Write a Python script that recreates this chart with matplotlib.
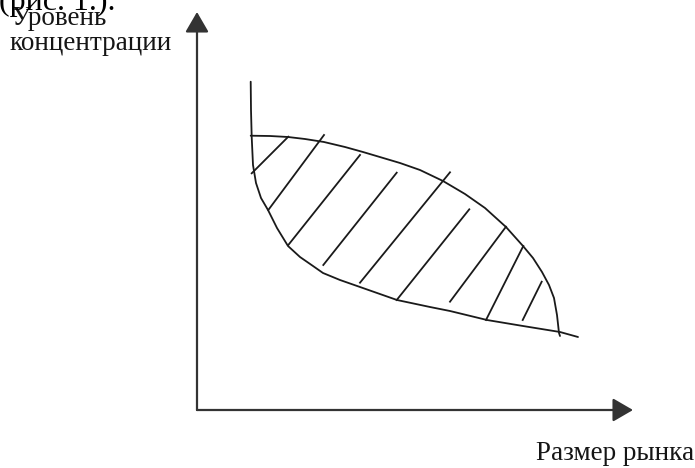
#!/usr/bin/env python3
# -*- coding: utf-8 -*-

#------------------------------------------------------------------------------
# Schematic: market concentration level vs market size
#------------------------------------------------------------------------------
import numpy as np
import matplotlib as mpl
mpl.use('agg')
import matplotlib.pyplot as plt

#------------------------------------------------------------------------------
# DATA (schematic units, origin at the axes corner)
#------------------------------------------------------------------------------

# lower bound curve (falls steeply, then flattens)
lower_x = [53.7, 54.0, 54.7, 56, 59, 64, 71, 80, 91, 103, 116, 126, 143, 163, 200, 233, 253, 290, 326, 363, 381]
lower_y = [328.3, 300, 273, 245, 227, 212, 200, 182, 164, 153, 144, 137, 130, 123, 110, 103, 99, 90, 84, 78, 73]

# upper bound curve (arc)
upper_x = [53.7, 73, 91, 108, 127, 148, 166, 203, 223, 246, 268, 288, 309, 326, 336, 345, 352, 357, 360, 362, 363]
upper_y = [274.3, 274, 273, 271, 268, 263, 258, 247, 240, 229, 216, 202, 183, 164, 152, 138, 125, 112, 95, 77, 74]

# hatch strokes: start / end
hatch_x0 = [54.7, 71.3, 91.3, 126.3, 163.0, 199.7, 253.0, 289.0, 325.7]
hatch_y0 = [236.7, 200.0, 165.0, 145.0, 127.3, 110.0, 108.3, 90.0, 90.0]
hatch_x1 = [91.3, 127.0, 163.0, 199.7, 253.0, 272.3, 309.0, 326.3, 344.7]
hatch_y1 = [273.3, 275.0, 255.0, 237.3, 237.7, 200.7, 183.3, 164.0, 128.3]

x_axis_end = 436
y_axis_end = 398

ylabel_lines = ['Уровень', 'концентрации']
xlabel = 'Размер рынка'
caption = '(рис. 1.).'

#------------------------------------------------------------------------------
# PLOT
#------------------------------------------------------------------------------

plt.rcParams['font.family'] = ['Liberation Serif', 'DejaVu Serif']

fig = plt.figure(figsize=(6.95, 4.68), dpi=100)
ax = fig.add_axes([0, 0, 1, 1])
ax.set_xlim(-197, 695 - 197)
ax.set_ylim(410 - 468, 410)
ax.axis('off')

# axes with arrow heads
arrow = dict(arrowstyle='-|>,head_length=0.62,head_width=0.36', mutation_scale=20,
             color='#333333', lw=1.6, shrinkA=0, shrinkB=0)
ax.annotate('', xy=(0, y_axis_end), xytext=(0, 0), arrowprops=arrow)
ax.annotate('', xy=(x_axis_end, 0), xytext=(0, 0), arrowprops=arrow)

# curves
ax.plot(lower_x, lower_y, color='#1a1a1a', lw=1.3, solid_capstyle='round')
ax.plot(upper_x, upper_y, color='#1a1a1a', lw=1.3, solid_capstyle='round')

# hatching
for i in range(len(hatch_x0)):
    ax.plot([hatch_x0[i], hatch_x1[i]], [hatch_y0[i], hatch_y1[i]], color='#1a1a1a', lw=1.3)

# texts
ax.text(-197 + 11, 410 - 25, ylabel_lines[0], fontsize=19.5, color='#151515', va='baseline')
ax.text(-197 + 10, 410 - 50, ylabel_lines[1], fontsize=19.5, color='#151515', va='baseline')
ax.text(536 - 197, 410 - 460, xlabel, fontsize=19.5, color='#151515', va='baseline')
ax.text(-197 - 1, 410 - 10, caption, fontsize=23, color='black', va='baseline')

plt.savefig('out.png', dpi=100)
plt.close('all')
print('** END')
